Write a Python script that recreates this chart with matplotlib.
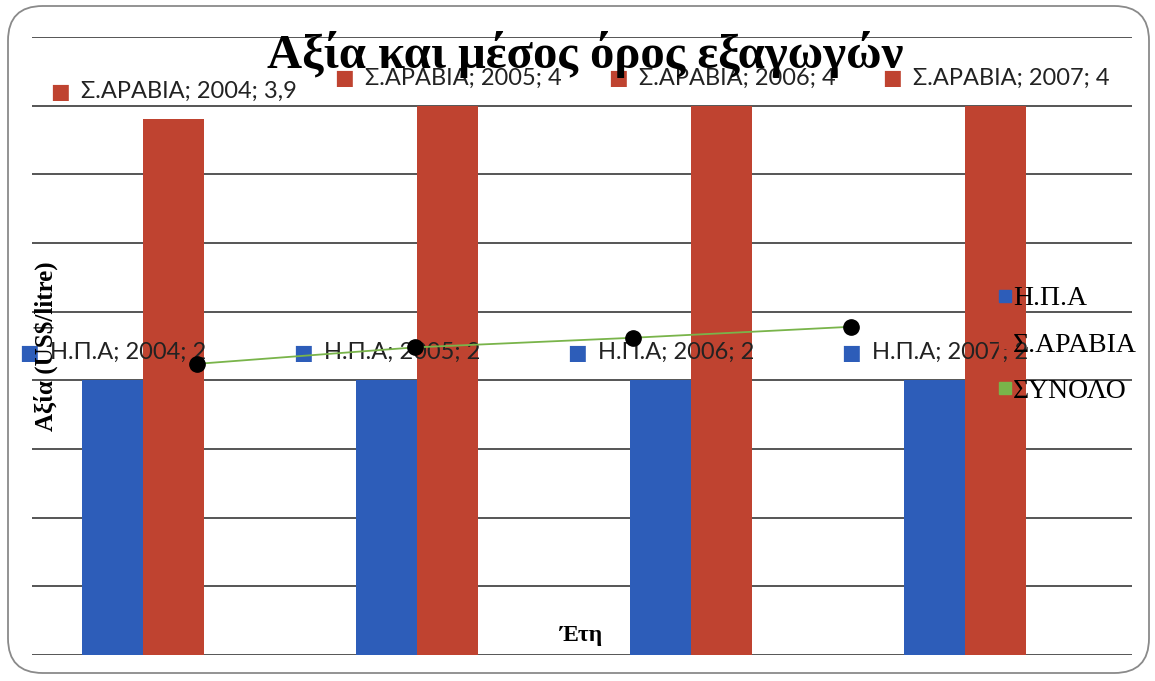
import matplotlib
matplotlib.use("Agg")
import matplotlib.pyplot as plt
from matplotlib.patches import FancyBboxPatch
from matplotlib.offsetbox import TextArea, HPacker, AnnotationBbox
from matplotlib.lines import Line2D
import numpy as np

years = ["2004", "2005", "2006", "2007"]
usa = [2, 2, 2, 2]
saudi = [3.9, 4, 4, 4]
total = [2.12, 2.24, 2.31, 2.39]
saudi_labels = ["3,9", "4", "4", "4"]
usa_labels = ["2", "2", "2", "2"]

BLUE = "#2D5DB9"
RED = "#BF4330"
GREEN = "#79B44A"
SERIF = "Liberation Serif"
SANS = ["Lato", "DejaVu Sans"]

fig = plt.figure(figsize=(11.55, 6.81), dpi=100)
W, H = 1155, 681

# rounded outer frame
frame = FancyBboxPatch((8 / W, 8 / H), (1149 - 8) / W, (675 - 8) / H,
                       boxstyle="round,pad=0,rounding_size=0.03",
                       transform=fig.transFigure, fill=False,
                       edgecolor="#8a8a8a", linewidth=1.3, mutation_aspect=W / H)
fig.patches.append(frame)

ax = fig.add_axes([32 / W, 1 - 655 / H, 1100 / W, (655 - 37) / H])
x = np.arange(len(years))
bw = 0.223
ax.bar(x - bw / 2, usa, bw, color=BLUE, zorder=2)
ax.bar(x + bw / 2, saudi, bw, color=RED, zorder=2)
ax.set_xlim(-0.405, 3.609)
ax.set_ylim(0, 4.5)
ax.set_yticks(np.arange(0, 4.51, 0.5))
ax.yaxis.grid(True, color="#555555", linewidth=1.4, zorder=1)
ax.tick_params(left=False, bottom=False, labelleft=False, labelbottom=False)
ax.set_xticks([])
for s in ax.spines.values():
    s.set_visible(False)

# line on its own category axis
ax2 = ax.twiny()
ax2.set_xlim(-0.757, 4.289)
ax2.set_ylim(0, 4.5)
ax2.plot(x, total, color=GREEN, linewidth=1.3, marker="o", markersize=11,
         markerfacecolor="black", markeredgecolor="black", zorder=5)
ax2.axis("off")

def label(xv, yv, color, text):
    box = HPacker(children=[
        TextArea("■", textprops=dict(color=color, fontsize=15, family=SANS)),
        TextArea(text, textprops=dict(color="#222222", fontsize=17, family=SANS))],
        align="center", pad=0, sep=8)
    ab = AnnotationBbox(box, (xv, yv), xybox=(0, 20), xycoords="data",
                        boxcoords="offset points", frameon=False,
                        box_alignment=(0.5, 0.5), annotation_clip=False, zorder=6)
    ax.add_artist(ab)

for i, yr in enumerate(years):
    label(x[i] + bw / 2, saudi[i], RED, f"Σ.ΑΡΑΒΙΑ; {yr}; {saudi_labels[i]}")
    label(x[i] - bw / 2, usa[i], BLUE, f"Η.Π.Α; {yr}; {usa_labels[i]}")

fig.text(585 / W, 1 - 55 / H, "Αξία και μέσος όρος εξαγωγών", family=SERIF,
         fontweight="bold", fontsize=35, ha="center", va="center", zorder=4)
fig.text(46 / W, 1 - 346 / H, "Αξία (US$/litre)", family=SERIF, fontweight="bold",
         fontsize=18, rotation=90, ha="center", va="center")
fig.text(582 / W, 1 - 635 / H, "Έτη", family=SERIF, fontweight="bold",
         fontsize=17, ha="center", va="center")

handles = [Line2D([], [], marker="s", linestyle="none", color=BLUE, markersize=9),
           Line2D([], [], marker="s", linestyle="none", color=RED, markersize=9),
           Line2D([], [], marker="s", linestyle="none", color=GREEN, markersize=9)]
fig.legend(handles, ["Η.Π.Α", "Σ.ΑΡΑΒΙΑ", "ΣΥΝΟΛΟ"], loc="center left",
           bbox_to_anchor=(984 / W, 1 - 345 / H), frameon=False,
           prop=dict(family=SERIF, size=20), handlelength=0.5, handletextpad=0.05,
           labelspacing=0.75, borderpad=0)

fig.savefig("out.png", dpi=100)
